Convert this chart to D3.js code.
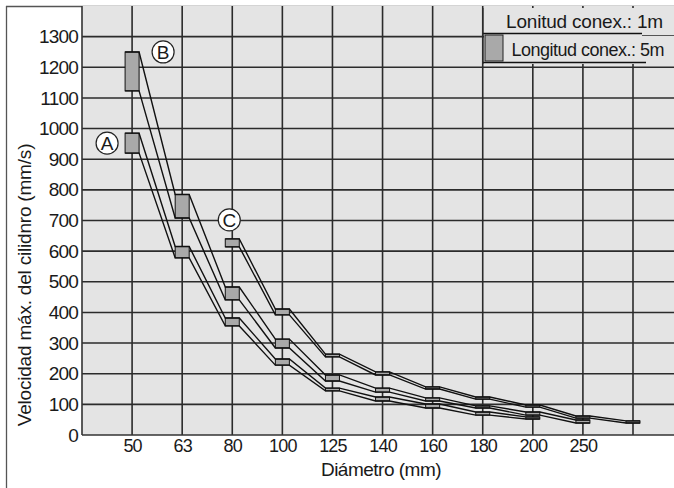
<!DOCTYPE html>
<html>
<head>
<meta charset="utf-8">
<script src="https://cdn.jsdelivr.net/npm/d3@7/dist/d3.min.js"></script>
<style>
  html, body { margin: 0; padding: 0; background: #fff; }
  svg { display: block; }
  text { font-family: "Liberation Sans", Arial, Helvetica, sans-serif; fill: #1a1a1a; }
</style>
</head>
<body>
<div id="chart"></div>
<script>
// ---- data ----
const xLabels = ["50", "63", "80", "100", "125", "140", "160", "180", "200", "250", ""];
const yTicks = [0, 100, 200, 300, 400, 500, 600, 700, 800, 900, 1000, 1100, 1200, 1300];
const seriesNames = ["A", "B", "C"];
// upper (1m) and lower (5m) velocity values, per diameter index (null = none)
const aHigh = [985, 615, 382, 248, 153, 124, 101, 75, 59, null, null];
const aLow  = [920, 578, 356, 228, 144, 111, 88, 65, 52, null, null];
const bHigh = [1250, 785, 483, 313, 196, 153, 121, 95, 75, 49, null];
const bLow  = [1123, 708, 441, 284, 176, 140, 111, 88, 65, 39, null];
const cHigh = [null, null, 640, 411, 264, 206, 157, 124, 98, 62, 46];
const cLow  = [null, null, 614, 392, 255, 196, 150, 117, 91, 55, 39];
const legendLabels = ["Lonitud conex.: 1m", "Longitud conex.: 5m"];
const xTitle = "Diámetro (mm)";
const yTitle = "Velocidad máx. del cilidnro (mm/s)";

// ---- layout ----
const W = 674, H = 488;
const plotLeft = 82, plotTop = 6, plotBottom = 435, plotRight = W;
const bg = "#e4e4e4", gridCol = "#2b2b2b", boxFill = "#a9a9a9";

const svg = d3.select("#chart").append("svg").attr("width", W).attr("height", H);

const x = d3.scaleLinear().domain([-1, xLabels.length - 1]).range([plotLeft, 633]);
const y = d3.scaleLinear().domain([0, 1400]).range([plotBottom, plotTop]);

// outer frame (left and top)
svg.append("line").attr("x1", 6.5).attr("x2", 6.5).attr("y1", 6).attr("y2", H)
  .attr("stroke", "#555").attr("stroke-width", 1.3);
svg.append("line").attr("x1", 6).attr("x2", W).attr("y1", 6.5).attr("y2", 6.5)
  .attr("stroke", "#555").attr("stroke-width", 1.3);

// plot background
svg.append("rect").attr("x", plotLeft).attr("y", plotTop)
  .attr("width", plotRight - plotLeft).attr("height", plotBottom - plotTop).attr("fill", bg);

// grid
const g = svg.append("g");
g.selectAll(".hg").data(yTicks.slice(1)).join("line")
  .attr("x1", plotLeft).attr("x2", plotRight)
  .attr("y1", d => y(d)).attr("y2", d => y(d))
  .attr("stroke", gridCol).attr("stroke-width", 1.6);
g.selectAll(".vg").data(xLabels).join("line")
  .attr("x1", (d, i) => x(i)).attr("x2", (d, i) => x(i))
  .attr("y1", plotTop).attr("y2", plotBottom)
  .attr("stroke", gridCol).attr("stroke-width", 1.6);

// axes lines
svg.append("line").attr("x1", plotLeft).attr("x2", plotLeft).attr("y1", plotTop).attr("y2", plotBottom)
  .attr("stroke", "#333").attr("stroke-width", 1.6);
svg.append("line").attr("x1", plotLeft).attr("x2", plotRight).attr("y1", y(0)).attr("y2", y(0))
  .attr("stroke", "#333").attr("stroke-width", 1.6);

// y tick labels
const yAxis = d3.axisLeft(y).tickValues(yTicks).tickFormat(d3.format("d")).tickSize(0).tickPadding(4);
const ya = svg.append("g").attr("transform", `translate(${plotLeft},0)`).call(yAxis);
ya.select(".domain").remove();
ya.selectAll("text").attr("font-size", 19).attr("fill", "#1a1a1a").style("letter-spacing", "-0.8px")
  .attr("font-family", "Liberation Sans, Arial, sans-serif");

// x tick labels
const xa = svg.append("g").attr("transform", `translate(0,${y(0)})`)
  .call(d3.axisBottom(x).tickValues(d3.range(xLabels.length)).tickFormat(i => xLabels[i]).tickSize(0).tickPadding(4));
xa.select(".domain").remove();
xa.selectAll("text").attr("font-size", 18).attr("fill", "#1a1a1a").style("letter-spacing", "-0.8px")
  .attr("font-family", "Liberation Sans, Arial, sans-serif");

// axis titles
svg.append("text").attr("x", 381).attr("y", 476).attr("text-anchor", "middle")
  .attr("font-size", 19).style("letter-spacing", "-0.5px").text(xTitle);
svg.append("text").attr("transform", "translate(31,285) rotate(-90)").attr("text-anchor", "middle")
  .attr("font-size", 19).style("letter-spacing", "-0.2px").text(yTitle);

// series
const series = [
  { name: seriesNames[0], hi: aHigh, lo: aLow },
  { name: seriesNames[1], hi: bHigh, lo: bLow },
  { name: seriesNames[2], hi: cHigh, lo: cLow }
];
const bw = 14;
series.forEach(s => {
  const idx = d3.range(xLabels.length).filter(i => s.hi[i] != null);
  const linePts = key => idx.flatMap(i => [[x(i) - bw / 2, y(s[key][i])], [x(i) + bw / 2, y(s[key][i])]]);
  // boxes
  svg.append("g").selectAll("rect").data(idx).join("rect")
    .attr("x", i => x(i) - bw / 2).attr("width", bw)
    .attr("y", i => y(s.hi[i])).attr("height", i => Math.max(2, y(s.lo[i]) - y(s.hi[i])))
    .attr("fill", boxFill).attr("stroke", "#111").attr("stroke-width", 1);
  ["hi", "lo"].forEach(k => {
    svg.append("path").attr("d", d3.line()(linePts(k)))
      .attr("fill", "none").attr("stroke", "#111").attr("stroke-width", 1.4);
  });
});

// series labels (circled letters)
const labelPos = [
  { s: 0, i: 0, dx: -25, v: (aHigh[0] + aLow[0]) / 2, dy: 0 },
  { s: 1, i: 0, dx: 31, v: bHigh[0], dy: 0 },
  { s: 2, i: 2, dx: -3, v: cHigh[2], dy: -19 }
];
labelPos.forEach(p => {
  const cx = x(p.i) + p.dx, cy = y(p.v) + p.dy;
  svg.append("circle").attr("cx", cx).attr("cy", cy).attr("r", 11)
    .attr("fill", "#fff").attr("stroke", "#222").attr("stroke-width", 1.2);
  svg.append("text").attr("x", cx).attr("y", cy).attr("dy", "0.36em").attr("text-anchor", "middle")
    .attr("font-size", 19).text(seriesNames[p.s]);
});

// legend
const lg = svg.append("g");
lg.append("rect").attr("x", 484).attr("y", 8).attr("width", W - 484).attr("height", 56).attr("fill", bg);
lg.append("text").attr("x", 663).attr("y", 28).attr("text-anchor", "end").attr("font-size", 19)
  .style("letter-spacing", "-0.2px").text(legendLabels[0]);
lg.append("line").attr("x1", 483).attr("x2", 642).attr("y1", 33.5).attr("y2", 33.5)
  .attr("stroke", "#111").attr("stroke-width", 1.6);
lg.append("line").attr("x1", 642).attr("x2", W).attr("y1", 35.5).attr("y2", 35.5)
  .attr("stroke", "#555").attr("stroke-width", 1);
lg.append("rect").attr("x", 485).attr("y", 35).attr("width", 18).attr("height", 26)
  .attr("fill", boxFill).attr("stroke", "#222").attr("stroke-width", 1);
lg.append("text").attr("x", 664).attr("y", 56).attr("text-anchor", "end").attr("font-size", 18)
  .style("letter-spacing", "-0.5px").text(legendLabels[1]);
lg.append("line").attr("x1", 483).attr("x2", 646).attr("y1", 62.5).attr("y2", 62.5)
  .attr("stroke", "#111").attr("stroke-width", 1.6);
lg.append("line").attr("x1", x(7)).attr("x2", x(7)).attr("y1", 8).attr("y2", 64)
  .attr("stroke", gridCol).attr("stroke-width", 1.5);
</script>
</body>
</html>
